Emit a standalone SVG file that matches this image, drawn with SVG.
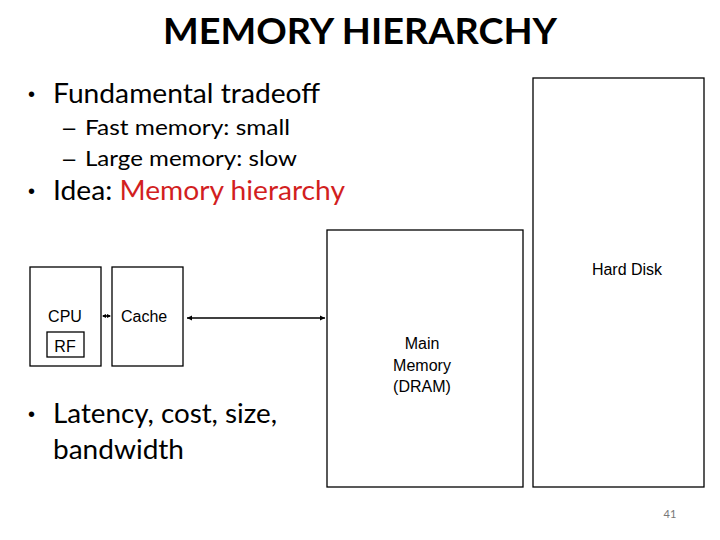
<svg xmlns="http://www.w3.org/2000/svg" width="720" height="540" viewBox="0 0 720 540">
<style>
.box{fill:#fff;stroke:#000;stroke-width:1.3}
.lbl{font-family:"Liberation Sans",Arial,sans-serif;font-size:16px;fill:#000}
.body{font-family:Lato,"Open Sans",sans-serif;fill:#000}
.bul{font-family:"Liberation Sans",Arial,sans-serif;font-size:20px}
.dash{font-family:"Liberation Sans",Arial,sans-serif;font-size:22px}
.conn{stroke:#000;stroke-width:1.6;fill:none}
</style>
<defs>
<marker id="ah" markerWidth="6" markerHeight="6" refX="5" refY="3" orient="auto-start-reverse" markerUnits="userSpaceOnUse">
<path d="M0,0.5 L5,3 L0,5.5 Z" fill="#000"/>
</marker>
</defs>
<rect width="720" height="540" fill="#fff"/>
<text x="360" y="44" text-anchor="middle" font-family="Lato,'Open Sans',sans-serif" font-weight="bold" font-size="37" textLength="394" lengthAdjust="spacingAndGlyphs">MEMORY HIERARCHY</text>
<g class="body">
<text class="bul" x="28" y="101">•</text>
<text x="53" y="103" font-size="26" textLength="267" lengthAdjust="spacingAndGlyphs">Fundamental tradeoff</text>
<text class="dash" x="63" y="135">–</text>
<text x="85" y="135" font-size="22" textLength="205" lengthAdjust="spacingAndGlyphs">Fast memory: small</text>
<text class="dash" x="63" y="166">–</text>
<text x="85" y="166" font-size="22" textLength="212" lengthAdjust="spacingAndGlyphs">Large memory: slow</text>
<text class="bul" x="28" y="198">•</text>
<text x="53" y="200" font-size="26" textLength="292" lengthAdjust="spacingAndGlyphs">Idea: <tspan fill="#d21f1f">Memory hierarchy</tspan></text>
<text class="bul" x="28" y="421">•</text>
<text x="53" y="423" font-size="26" textLength="224" lengthAdjust="spacingAndGlyphs">Latency, cost, size,</text>
<text x="53" y="459" font-size="26" textLength="131" lengthAdjust="spacingAndGlyphs">bandwidth</text>
</g>
<g id="hdd">
<rect class="box" x="533" y="78" width="171" height="409"/>
<text class="lbl" x="627" y="275" text-anchor="middle">Hard Disk</text>
</g>
<g id="dram">
<rect class="box" x="327" y="230" width="196" height="257"/>
<text class="lbl" x="422" y="349" text-anchor="middle">Main</text>
<text class="lbl" x="422" y="371" text-anchor="middle">Memory</text>
<text class="lbl" x="422" y="392" text-anchor="middle">(DRAM)</text>
</g>
<g id="cpu">
<rect class="box" x="30" y="267" width="71" height="99"/>
<text class="lbl" x="65" y="322" text-anchor="middle">CPU</text>
<rect class="box" x="47" y="332" width="37" height="25"/>
<text class="lbl" x="65" y="352" text-anchor="middle">RF</text>
</g>
<g id="cache">
<rect class="box" x="112" y="267" width="71" height="99"/>
<text class="lbl" x="121" y="322">Cache</text>
</g>
<g id="connectors">
<line class="conn" x1="103" y1="316" x2="110" y2="316" stroke-width="1.4"/>
<path d="M102,316 L106,314 L106,318 Z M111,316 L107,314 L107,318 Z" fill="#000"/>
<line class="conn" x1="187" y1="318" x2="325" y2="318" marker-start="url(#ah)" marker-end="url(#ah)"/>
</g>
<text x="670" y="518" text-anchor="middle" font-family="Lato,'Open Sans',sans-serif" font-size="11" fill="#777">41</text>
</svg>
